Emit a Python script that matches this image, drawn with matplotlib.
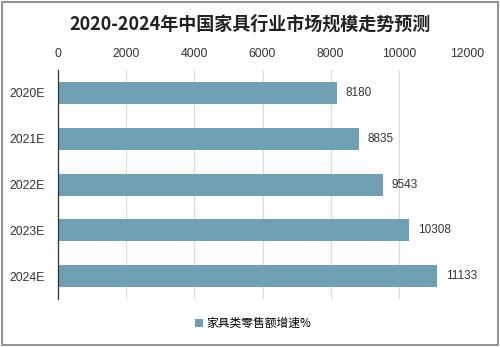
import matplotlib
matplotlib.use("Agg")
import matplotlib.pyplot as plt
from matplotlib.patches import Rectangle

plt.rcParams['font.family'] = ['Liberation Sans', 'Noto Sans CJK SC', 'DejaVu Sans']

# 数据
years = ['2020E', '2021E', '2022E', '2023E', '2024E']
values = [8180, 8835, 9543, 10308, 11133]
x_ticks = [0, 2000, 4000, 6000, 8000, 10000, 12000]

BAR_COLOR = '#6f9fb4'

fig = plt.figure(figsize=(5.0, 3.47), dpi=100)
ax = fig.add_axes([0.116, 0.138, 0.818, 0.66])

pos = list(range(len(years)))
ax.barh(pos, values, height=0.48, color=BAR_COLOR, label='家具类零售额增速%')
for p, v in zip(pos, values):
    ax.text(v + 250, p, str(v), va='center', ha='left', fontsize=8.5, color='#333333')

ax.set_xlim(0, 12000)
ax.set_ylim(len(years) - 0.5, -0.5)
ax.set_yticks(pos)
ax.set_yticklabels(years, fontsize=8.8, color='#333333')
ax.set_xticks(x_ticks)
ax.set_xticklabels([str(t) for t in x_ticks], fontsize=8.8, color='#333333')
ax.xaxis.tick_top()
ax.tick_params(axis='y', length=0, pad=9.5)
ax.tick_params(axis='x', length=0, pad=7)
ax.grid(True, axis='x', color='#d9d9d9', linewidth=0.8)
ax.set_axisbelow(True)
for side in ['top', 'right', 'bottom']:
    ax.spines[side].set_visible(False)
ax.spines['left'].set_color('#333333')
ax.spines['left'].set_linewidth(0.9)

fig.text(0.5, 0.93, '2020-2024年中国家具行业市场规模走势预测', ha='center', va='center',
         fontsize=13, fontweight='bold', color='#222222',
         family=['Noto Sans CJK SC', 'DejaVu Sans'])

leg = fig.legend(loc='center', bbox_to_anchor=(0.506, 0.068), frameon=False,
                 handlelength=0.7, handleheight=0.7, handletextpad=0.3,
                 prop={'family': ['Noto Sans CJK SC'], 'size': 8.5})

fig.patches.append(Rectangle((0.004, 0.006), 0.992, 0.988, transform=fig.transFigure,
                             fill=False, edgecolor='#808080', linewidth=1.2))

fig.savefig('out.png', dpi=100)
